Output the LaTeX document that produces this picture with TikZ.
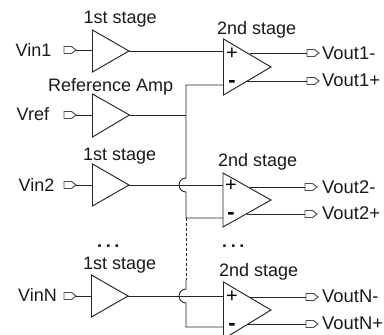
\documentclass[tikz,border=0pt]{standalone}
\usepackage{fontspec}
\setmainfont{Liberation Sans}
\tikzset{
  wire/.style={draw=black!85,line width=0.95pt},
  lbl/.style={anchor=base west,inner sep=0pt,font=\fontsize{18}{20}\selectfont,text=black!90},
  outlbl/.style={lbl,font=\fontsize{18.4}{20}\selectfont},
  plussym/.style={anchor=center,inner sep=0pt,font=\fontsize{20}{22}\selectfont},
  minussym/.style={anchor=center,inner sep=0pt,font=\fontsize{22}{24}\selectfont\bfseries},
  portshape/.style={draw=black!70,line width=0.95pt,fill=white,line join=miter},
}
% #1 name, #2 left x, #3 top y, #4 bottom y, #5 tip x, #6 tip y
\newcommand{\ampl}[6]{
  \coordinate (#1-t) at (#2,#3);
  \coordinate (#1-b) at (#2,#4);
  \coordinate (#1-o) at (#5,#6);
  \draw[wire,line join=miter] (#1-t) -- (#1-o) -- (#1-b) -- cycle;
}
% #1 name, #2 left x, #3 y : port 12 wide, pointing right
\newcommand{\portp}[3]{
  \coordinate (#1-l) at (#2,#3);
  \coordinate (#1-r) at ($(#2,#3)+(12,0)$);
  \draw[portshape] (#2,#3-3.5) -- ++(7.5,0) -- (#1-r) -- ++(-4.5,3.5) -- ++(-7.5,0) -- cycle;
}
\usetikzlibrary{calc}
\begin{document}
\begin{tikzpicture}[x=1pt,y=-1pt]
\useasboundingbox (0,0) rectangle (384,335);
\clip (0,0) rectangle (384,335);
% ---- first-stage amplifiers
\ampl{a1}{92.5}{30}{72}{129}{51}
\ampl{ar}{92.5}{94}{137}{129.5}{115}
\ampl{a2}{92.5}{164}{206}{129}{185}
\ampl{an}{91.5}{275}{317}{128}{296}
% ---- second-stage amplifiers
\ampl{b1}{223.5}{39}{95}{271}{67}
\ampl{b2}{223}{173}{227}{271}{200}
\ampl{bn}{223.5}{282}{339}{271}{310}
% ---- input ports
\portp{i1}{64}{50}
\portp{ir}{64}{115}
\portp{i2}{64}{185}
\portp{in}{64}{296}
\draw[wire] (i1-r) -- (92.5,50);
\draw[wire] (ir-r) -- (92.5,115);
\draw[wire] (i2-r) -- (92.5,185);
\draw[wire] (in-r) -- (91.5,296);
% ---- first to second stage
\draw[wire] (a1-o) -- (223.5,51);
\draw[wire] (a2-o) -- (223,185);
\draw[wire] (an-o) -- (223.5,296);
% ---- reference line
\coordinate (rt) at (186,85);
\coordinate (rm) at (186,115);
\draw[wire] (ar-o) -- (rm);
\draw[wire] (223.5,85) -- (rt) -- (rm) -- (186,178)
  arc[start angle=-90,end angle=-270,radius=7] -- (186,218) -- (223,218);
\draw[wire,densely dashed,line width=0.8pt] (186,218) -- (186,280);
\draw[wire] (186,280) -- (186,289)
  arc[start angle=-90,end angle=-270,radius=7] -- (186,327) -- (223.5,327);
% ---- output ports and wires
\portp{o1m}{307}{53}
\portp{o1p}{307}{81}
\portp{o2m}{305}{187}
\portp{o2p}{305}{214}
\portp{onm}{306}{297}
\portp{onp}{306}{324}
\draw[wire] (250,53) -- (o1m-l);
\draw[wire] (247,81) -- (o1p-l);
\draw[wire] (250,187) -- (o2m-l);
\draw[wire] (247,214) -- (o2p-l);
\draw[wire] (250,297) -- (onm-l);
\draw[wire] (247,324) -- (onp-l);
% ---- plus / minus
\node[plussym] (p1) at (232,53.5) {+};
\node[minussym] (m1) at (232,84) {-};
\node[plussym] (p2) at (231,185.5) {+};
\node[minussym] (m2) at (231,216) {-};
\node[plussym] (pn) at (232,297) {+};
\node[minussym] (mn) at (232,327) {-};
% ---- labels
\node[lbl] (t1) at (83.5,23.5) {1st stage};
\node[lbl] (t2) at (48,91) {Reference Amp};
\node[lbl] (t3) at (83,160) {1st stage};
\node[lbl] (t4) at (83,269) {1st stage};
\node[lbl] (s1) at (217,34) {2nd stage};
\node[lbl] (s2) at (218,166.5) {2nd stage};
\node[lbl] (s3) at (219,276) {2nd stage};
\node[lbl] (v1) at (15.5,56.5) {Vin1};
\node[lbl] (vr) at (16.5,120) {Vref};
\node[lbl] (v2) at (18.5,191) {Vin2};
\node[lbl] (vn) at (18,301) {VinN};
\node[outlbl] (q1) at (322,59) {Vout1-};
\node[outlbl] (q2) at (322,86) {Vout1+};
\node[outlbl] (q3) at (322,193) {Vout2-};
\node[outlbl] (q4) at (322,219) {Vout2+};
\node[outlbl] (q5) at (322,302) {VoutN-};
\node[outlbl] (q6) at (322,329) {VoutN+};
\node[lbl] (d1) at (97,247) {\textbf{.\kern3.6pt.\kern3.6pt.}};
\node[lbl] (d2) at (222,247) {\textbf{.\kern3.6pt.\kern3.6pt.}};
\end{tikzpicture}
\end{document}
